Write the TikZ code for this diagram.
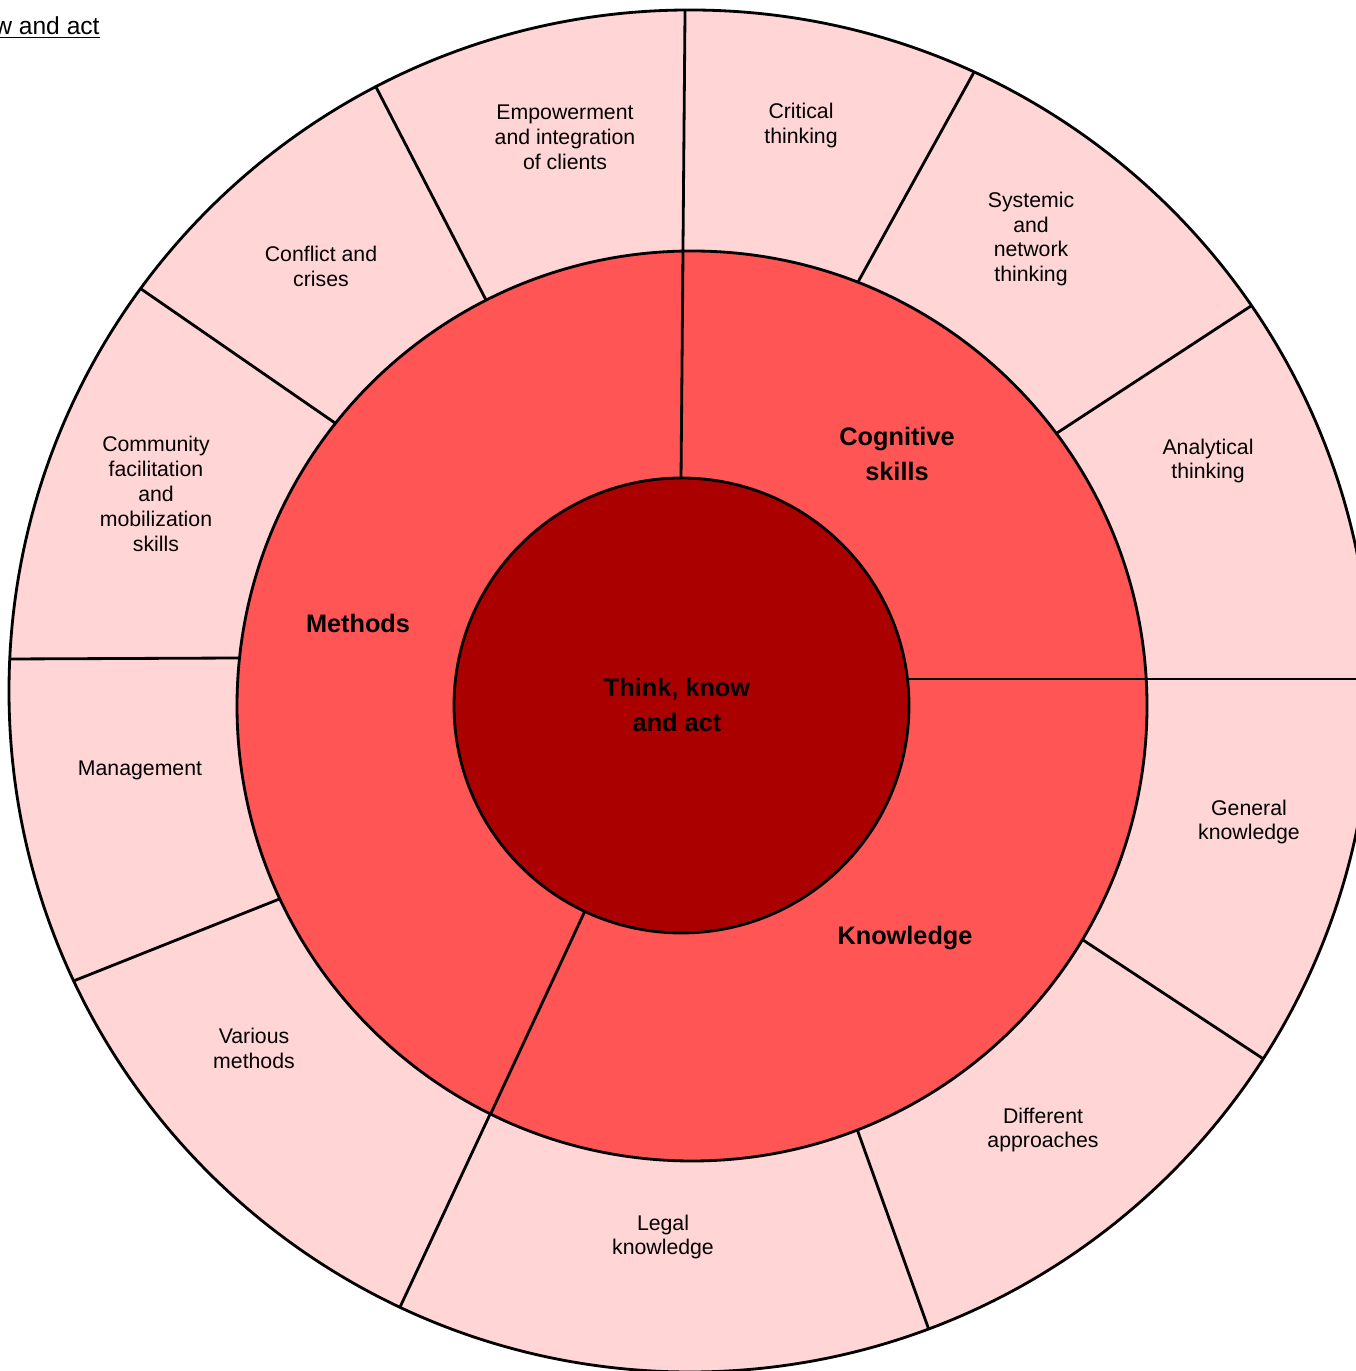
\documentclass[tikz,border=0pt]{standalone}
\usepackage{fontspec}
\setmainfont{Liberation Sans}
\usepackage{tikz}
\usetikzlibrary{calc}

\definecolor{corered}{HTML}{AA0000}
\definecolor{midred}{HTML}{FF5555}
\definecolor{ringpink}{HTML}{FFD5D5}

\begin{document}
\begin{tikzpicture}[x=0.02cm,y=0.02cm,line width=1.6pt,
	part/.style={align=center,font=\fontsize{12.1}{14.2}\selectfont},
	group/.style={align=center,font=\bfseries\fontsize{14.4}{19.9}\selectfont}]
	\useasboundingbox (0,0) rectangle (1355,1371);
	% outer ring
	\fill[ringpink] (690,680) circle (681);
	\begin{scope}
		\clip (690,680) circle (681);
		\draw ($(681,892)!-0.1!(685,1358)$) -- ($(681,892)!1.1!(685,1358)$);
		\draw ($(858,1089)!-0.1!(973,1297)$) -- ($(858,1089)!1.2!(973,1297)$);
		\draw ($(1057,938)!-0.1!(1251,1065)$) -- ($(1057,938)!1.2!(1251,1065)$);
		\draw (900,692) -- (1400,692);
		\draw ($(1083,431)!-0.1!(1265,311)$) -- ($(1083,431)!1.2!(1265,311)$);
		\draw ($(857,242)!-0.1!(929,41)$) -- ($(857,242)!1.2!(929,41)$);
		\draw ($(584,458)!-0.1!(401,66)$) -- ($(584,458)!1.2!(401,66)$);
		\draw ($(282,473)!-0.1!(76,391)$) -- ($(282,473)!1.2!(76,391)$);
		\draw ($(240,713)!-0.1!(12,712)$) -- ($(240,713)!1.2!(12,712)$);
		\draw ($(335,948)!-0.1!(144,1080)$) -- ($(335,948)!1.2!(144,1080)$);
		\draw ($(487,1069)!-0.1!(377,1282)$) -- ($(487,1069)!1.2!(377,1282)$);
	\end{scope}
	% middle ring
	\filldraw[fill=midred] (692,665) circle (455);
	\begin{scope}
		\clip (692,665) circle (455);
		\draw ($(681,892)!-0.1!(683,1119)$) -- ($(681,892)!1.2!(683,1119)$);
		\draw (880,692) -- (1200,692);
		\draw ($(584,458)!-0.1!(492,260)$) -- ($(584,458)!1.2!(492,260)$);
	\end{scope}
	% core
	\filldraw[fill=corered] (681.5,665.5) circle (227.5);
	\draw (690,680) circle (681);

	\node[anchor=base east,inner sep=0pt,font=\fontsize{14}{16}\selectfont] (title) at (101,1336) {\underline{w and act}};

	\node[group] (core) at (677,666) {Think, know\\and act};
	\node[group] (cognitive) at (897,917) {Cognitive\\skills};
	\node[group] (methods) at (358,748) {Methods};
	\node[group] (knowledge) at (905,433) {Knowledge};

	\node[part] (empower) at (565,1234) {Empowerment\\and integration\\of clients};
	\node[part] (critical) at (801,1245) {Critical\\thinking};
	\node[part] (systemic) at (1031,1132) {Systemic\\and\\network\\thinking};
	\node[part] (analytical) at (1208,910) {Analytical\\thinking};
	\node[part] (general) at (1249,549) {General\\knowledge};
	\node[part] (different) at (1043,241) {Different\\approaches};
	\node[part] (legal) at (663,134) {Legal\\knowledge};
	\node[part] (various) at (254,323) {Various\\methods};
	\node[part] (management) at (140,601) {Management};
	\node[part] (community) at (156,877) {Community\\facilitation\\and\\mobilization\\skills};
	\node[part] (conflict) at (321,1105) {Conflict and\\crises};
\end{tikzpicture}
\end{document}
